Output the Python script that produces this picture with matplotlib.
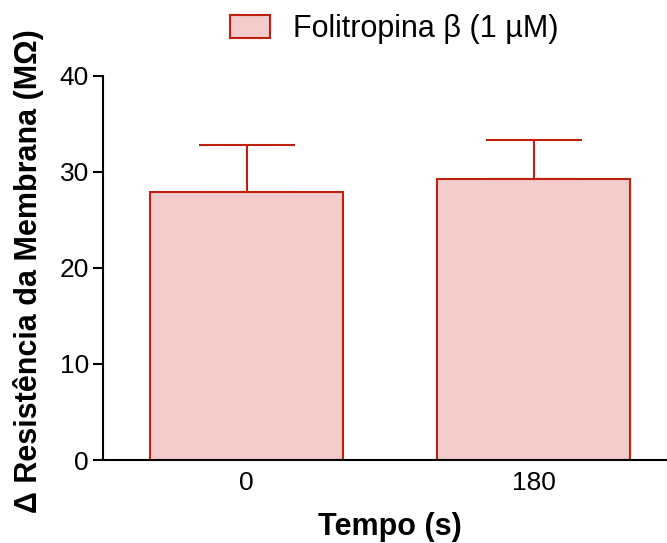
import numpy as np
import matplotlib.pyplot as plt

plt.rcParams['font.family'] = ['Liberation Sans', 'DejaVu Sans']

# data
tempos = ['0', '180']
resistencia = [27.9, 29.3]
erro = [4.9, 4.0]
serie = 'Folitropina \u03b2 (1 \u00b5M)'

FILL = '#F3CCCC'
EDGE = '#C0200F'

fig = plt.figure(figsize=(6.67, 5.43), dpi=100)
ax = fig.add_axes([103/667, 1 - 460/543, 1 - 103/667, (460 - 76)/543])

x = np.arange(len(tempos))
ax.bar(x, resistencia, width=0.67, color=FILL, edgecolor=EDGE, linewidth=1.5,
       label=serie, zorder=2)
ax.errorbar(x, resistencia, yerr=[np.zeros(len(erro)), erro], fmt='none',
            ecolor=EDGE, elinewidth=1.5, capsize=34.5, capthick=1.5, zorder=1)

ax.set_xlim(-0.5, 1.465)
ax.set_ylim(0, 40)
ax.set_yticks([0, 10, 20, 30, 40])
ax.set_xticks(x)
ax.set_xticklabels(tempos)

for s in ['top', 'right']:
  ax.spines[s].set_visible(False)
for s in ['left', 'bottom']:
  ax.spines[s].set_linewidth(1.5)

ax.tick_params(axis='y', labelsize=19, length=7, width=1.5, pad=3)
ax.tick_params(axis='x', labelsize=19, length=0, pad=8)

# axis titles, placed by pixel position from the reference
ax.set_xlabel('Tempo (s)', fontsize=22, fontweight='bold')
ax.xaxis.set_label_coords((390 - 103)/564, -(512 - 460)/384)
ax.set_ylabel('\u0394 Resist\u00eancia da Membrana (M\u03a9)', fontsize=22,
              fontweight='bold')
ax.yaxis.set_label_coords(-(103 - 44)/564, (460 - 271.5)/384)

fig.legend(loc='center', bbox_to_anchor=(394.5/667, 1 - 29.5/543), frameon=False,
           fontsize=22, handlelength=1.3, handleheight=0.77, handletextpad=0.77,
           borderpad=0, borderaxespad=0)

fig.savefig('out.png', dpi=100)
